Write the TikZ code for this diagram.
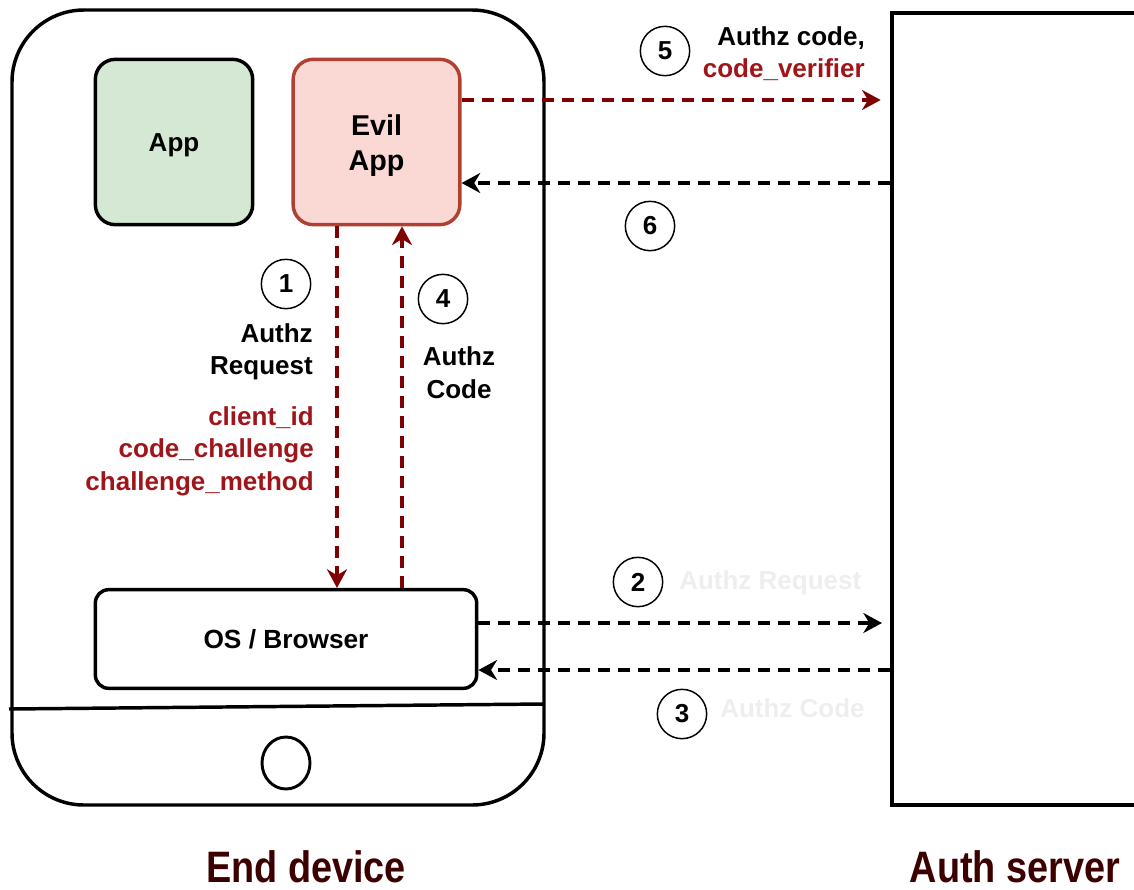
\documentclass[tikz,border=0pt]{standalone}
\usepackage{fontspec}
\setmainfont{Liberation Sans}
\newfontfamily\narrowfont[FakeStretch=0.86]{Liberation Sans}
\usetikzlibrary{arrows.meta}
\definecolor{arrowred}{HTML}{7F0000}
\definecolor{textred}{HTML}{A0151A}
\definecolor{evilfill}{HTML}{FAD9D5}
\definecolor{evilline}{HTML}{AE4132}
\definecolor{appfill}{HTML}{D5E8D4}
\definecolor{titlecol}{HTML}{3D0000}
\definecolor{ghost}{HTML}{EEEEEE}
\tikzset{
  px/.style={x=0.75pt,y=-0.75pt},
  box/.style={draw=black,line width=2.6pt,rounded corners=15pt,align=center,font=\bfseries\fontsize{19.5}{24}\selectfont,inner sep=0pt},
  numc/.style={circle,draw=black,line width=1.1pt,minimum size=37pt,inner sep=0pt,font=\bfseries\fontsize{19.5}{24}\selectfont},
  lbl/.style={font=\bfseries\fontsize{19.5}{24.6}\selectfont,inner sep=0pt},
  flow/.style={line width=2.3pt,dash pattern=on 9pt off 6pt,-{Stealth[length=14pt,width=15pt,inset=4.5pt]}},
  title/.style={font=\narrowfont\bfseries\fontsize{33}{36}\selectfont,text=titlecol,inner sep=0pt}
}
\begin{document}
\begin{tikzpicture}[px]
\useasboundingbox (0,0) rectangle (1134,889);
\begin{scope}
\clip (0,0) rectangle (1134,889);
% phone
\draw[line width=2.6pt,rounded corners=54pt] (12,10) rectangle (544,805);
\draw[line width=2.6pt] (9,709) -- (544,704);
\draw[line width=2.2pt] (286,763) ellipse [x radius=24, y radius=26];
% server
\node[draw=black,line width=3pt,minimum width=190pt,minimum height=594pt,anchor=north west,inner sep=0pt] (server) at (890,11) {};
\end{scope}
% boxes
\node[box,fill=appfill,minimum width=118pt,minimum height=124pt,
  label={[inner sep=0pt,font=\bfseries\fontsize{19.5}{24}\selectfont,yshift=-2.5pt]center:App}] (app) at (174,142) {};
\node[box,draw=evilline,fill=evilfill,minimum width=125pt,minimum height=124pt,
  label={[inner sep=0pt,align=center,font=\bfseries\fontsize{21.5}{26.5}\selectfont,yshift=-2.5pt]center:Evil\\App}] (evil) at (376.5,142) {};
\node[box,fill=white,minimum width=286pt,minimum height=74pt,rounded corners=10pt,font=\bfseries\fontsize{19.7}{24}\selectfont] (os) at (286,639) {OS / Browser};
% connector guide coordinates
\coordinate (xa) at (337,0);
\coordinate (xb) at (402,0);
\coordinate (y5) at (0,100);
\coordinate (y6) at (0,183);
\coordinate (y2) at (0,623);
\coordinate (y3) at (0,670);
% connectors
\draw[flow,draw=arrowred,color=arrowred] (xa |- evil.south) -- (xa |- os.north);
\draw[flow,draw=arrowred,color=arrowred] (xb |- os.north) -- (xb |- evil.south);
\draw[flow,draw=arrowred,color=arrowred,shorten >=7pt] (evil.east |- y5) -- (server.west |- y5);
\draw[flow] (server.west |- y6) -- (evil.east |- y6);
\draw[flow,shorten >=6pt] (os.east |- y2) -- (server.west |- y2);
\draw[flow] (server.west |- y3) -- (os.east |- y3);
% number circles
\node[numc] (c1) at (286,284) {1};
\node[numc] (c4) at (443,299) {4};
\node[numc] (c5) at (665,51) {5};
\node[numc] (c6) at (650,226) {6};
\node[numc] (c2) at (638,582) {2};
\node[numc] (c3) at (682,714) {3};
% labels
\node[lbl,align=right,anchor=north east] (l1) at (313,323) {Authz\\Request};
\node[lbl,align=right,anchor=north east,text=textred] (l1b) at (314,406) {client\_id\\code\_challenge\\challenge\_method};
\node[lbl,align=center,anchor=north,font=\bfseries\fontsize{19.5}{24.8}\selectfont] (l4) at (459,346) {Authz\\Code};
\node[lbl,align=right,anchor=north east] (l5) at (865,26) {Authz code,\\\textcolor{textred}{code\_verifier}};
\node[lbl,anchor=west,text=ghost] (l2) at (679,583) {Authz Request};
\node[lbl,anchor=west,text=ghost] (l3) at (720,708) {Authz Code};
% titles
\node[title,anchor=base] (t1) at (306,882) {End device};
\node[title,anchor=base] (t2) at (1015,882) {Auth server};
\end{tikzpicture}
\end{document}
